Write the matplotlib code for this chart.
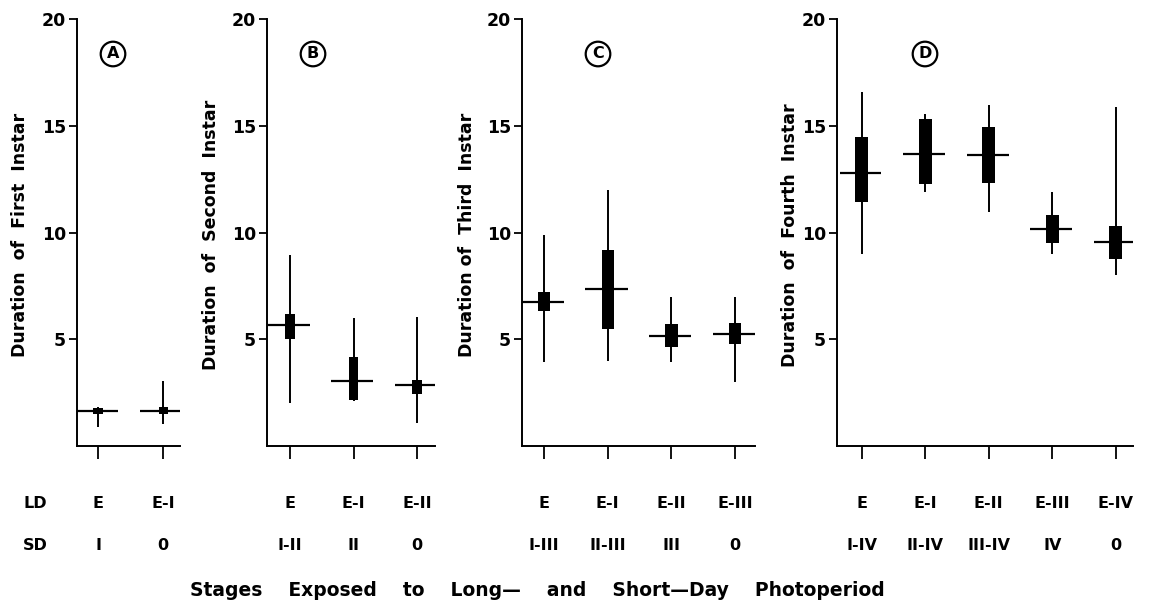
import matplotlib
matplotlib.use('Agg')
import matplotlib.pyplot as plt
import matplotlib.transforms as mtransforms

plt.rcParams['font.family'] = ['DejaVu Sans']
plt.rcParams['font.weight'] = 'bold'

# Panel data: mean, whisker range, thick bar range (days)
a_mean = [1.65, 1.65]
a_min = [0.9, 1.05]
a_max = [1.85, 3.05]
a_lo = [1.5, 1.5]
a_hi = [1.8, 1.85]

b_mean = [5.65, 3.05, 2.85]
b_min = [2.0, 2.1, 1.1]
b_max = [8.95, 6.0, 6.05]
b_lo = [5.0, 2.15, 2.45]
b_hi = [6.2, 4.15, 3.1]

c_mean = [6.75, 7.35, 5.15, 5.25]
c_min = [3.95, 4.0, 3.95, 3.0]
c_max = [9.9, 12.0, 7.0, 7.0]
c_lo = [6.3, 5.5, 4.65, 4.8]
c_hi = [7.2, 9.2, 5.7, 5.75]

d_mean = [12.8, 13.7, 13.65, 10.15, 9.55]
d_min = [9.0, 11.9, 10.95, 9.0, 8.0]
d_max = [16.6, 15.55, 15.95, 11.9, 15.9]
d_lo = [11.45, 12.25, 12.3, 9.5, 8.75]
d_hi = [14.45, 15.3, 14.95, 10.8, 10.3]

ld_a = ['E', 'E-I']
ld_b = ['E', 'E-I', 'E-II']
ld_c = ['E', 'E-I', 'E-II', 'E-III']
ld_d = ['E', 'E-I', 'E-II', 'E-III', 'E-IV']
sd_a = ['I', '0']
sd_b = ['I-II', 'II', '0']
sd_c = ['I-III', 'II-III', 'III', '0']
sd_d = ['I-IV', 'II-IV', 'III-IV', 'IV', '0']

ylabels = ['Duration  of  First  Instar', 'Duration  of  Second  Instar',
           'Duration of  Third  Instar', 'Duration  of  Fourth  Instar']
letters = ['A', 'B', 'C', 'D']

W, H = 1155, 615
fig = plt.figure(figsize=(W/100, H/100), dpi=100)

# pixel layout: left, right, x-limits, box width, ylabel x, letter x
panels = [
    (77, 180, (0.677, 2.26), 0.14, 20, a_mean, a_min, a_max, a_lo, a_hi, ld_a, sd_a, 113),
    (267, 435, (0.638, 3.28), 0.15, 211, b_mean, b_min, b_max, b_lo, b_hi, ld_b, sd_b, 313),
    (522, 755, (0.655, 4.31), 0.19, 467, c_mean, c_min, c_max, c_lo, c_hi, ld_c, sd_c, 598),
    (837, 1133, (0.61, 5.27), 0.2, 790, d_mean, d_min, d_max, d_lo, d_hi, ld_d, sd_d, 925),
]
top, bottom = 19, 446

for i, (l, r, xl, bw, ylx, mean, mn, mx, lo, hi, ld, sd, lx) in enumerate(panels):
    ax = fig.add_axes([l/W, 1 - bottom/H, (r-l)/W, (bottom-top)/H])
    x = list(range(1, len(mean)+1))
    ax.vlines(x, mn, mx, color='black', lw=1.4)
    ax.bar(x, [h - q for h, q in zip(hi, lo)], bottom=lo, width=bw, color='black')
    ax.hlines(mean, [v - 0.35 for v in x], [v + 0.31 for v in x], color='black', lw=1.6)
    ax.set_xlim(*xl)
    ax.set_ylim(0, 20)
    ax.set_yticks([5, 10, 15, 20])
    ax.set_yticklabels(['5', '10', '15', '20'])
    ax.set_xticks(x)
    ax.set_xticklabels([])
    for s in ['top', 'right']:
        ax.spines[s].set_visible(False)
    for s in ['left', 'bottom']:
        ax.spines[s].set_linewidth(1.4)
    ax.tick_params(axis='y', length=6, width=1.3, pad=2, labelsize=12.5)
    ax.tick_params(axis='x', length=9, width=1.3)

    fig.text(ylx/W, 1 - 235/H, ylabels[i], rotation=90, ha='center', va='center',
             fontsize=12.5)
    fig.text(lx/W, 1 - 54/H, letters[i], ha='center', va='center', fontsize=11.5,
             bbox=dict(boxstyle='circle,pad=0.3', fc='white', ec='black', lw=1.6))

    tr = mtransforms.blended_transform_factory(ax.transData, fig.transFigure)
    for xv, t1, t2 in zip(x, ld, sd):
        ax.text(xv, 1 - 503/H, t1, transform=tr, ha='center', va='center', fontsize=11.5)
        ax.text(xv, 1 - 545/H, t2, transform=tr, ha='center', va='center', fontsize=11.5)

fig.text(35/W, 1 - 503/H, 'LD', ha='center', va='center', fontsize=11.5)
fig.text(35/W, 1 - 545/H, 'SD', ha='center', va='center', fontsize=11.5)
fig.text(537/W, 1 - 590/H,
         'Stages    Exposed    to    Long\u2014    and    Short\u2014Day    Photoperiod',
         ha='center', va='center', fontsize=13.5)

plt.savefig('out.png', dpi=100)
